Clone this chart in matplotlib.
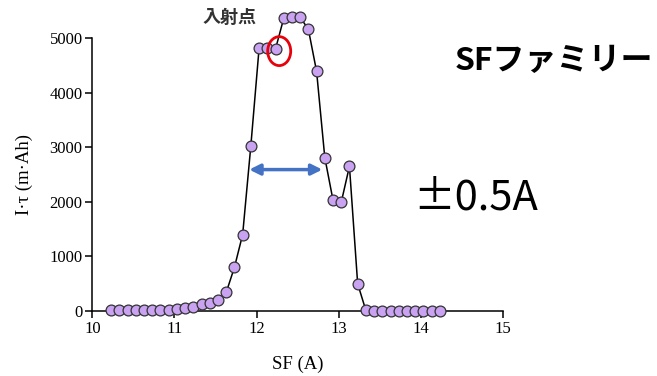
import numpy as np
import matplotlib
matplotlib.use('Agg')
import matplotlib.pyplot as plt
from matplotlib.patches import Ellipse

# SF current scan (A) vs I*tau (m*Ah)
sf_current = [10.23, 10.33, 10.43, 10.53, 10.63, 10.73, 10.83, 10.93, 11.03, 11.13,
              11.23, 11.33, 11.43, 11.53, 11.63, 11.73, 11.83, 11.93, 12.03, 12.13,
              12.23, 12.33, 12.43, 12.53, 12.63, 12.73, 12.83, 12.93, 13.03, 13.13,
              13.23, 13.33, 13.43, 13.53, 13.63, 13.73, 13.83, 13.93, 14.03, 14.13, 14.23]
i_tau = [20, 20, 20, 20, 20, 20, 20, 25, 35, 50,
         80, 130, 150, 200, 340, 800, 1400, 3030, 4810, 4810,
         4800, 5360, 5380, 5380, 5160, 4390, 2810, 2030, 1990, 2650,
         500, 10, 5, 5, 5, 5, 5, 5, 5, 5, 5]

x_ticks = [10, 11, 12, 13, 14, 15]
y_ticks = [0, 1000, 2000, 3000, 4000, 5000]

serif = ['Liberation Serif', 'DejaVu Serif']
cjk = ['Noto Sans CJK JP', 'DejaVu Sans']

fig = plt.figure(figsize=(6.57, 3.76), dpi=100)
ax = fig.add_axes([0.1405, 0.1729, 0.6252, 0.726])

ax.plot(sf_current, i_tau, color='black', lw=1.1, marker='o', markersize=7.8,
        markerfacecolor='#c9a2f2', markeredgecolor='#333333', markeredgewidth=0.9,
        clip_on=False, zorder=3)

ax.set_xlim(10, 15)
ax.set_ylim(0, 5000)
ax.set_xticks(x_ticks)
ax.set_yticks(y_ticks)
for s in ['top', 'right']:
    ax.spines[s].set_visible(False)
for s in ['left', 'bottom']:
    ax.spines[s].set_linewidth(1.1)
ax.tick_params(direction='out', length=5, width=1.1, labelsize=12, pad=2)
for lab in ax.get_xticklabels() + ax.get_yticklabels():
    lab.set_family(serif)

ax.set_xlabel('SF (A)', family=serif, fontsize=13.5, labelpad=14)
ax.set_ylabel('I·τ (m·Ah)', family=serif, fontsize=13.5, labelpad=12)

# 入射点 marker
ell = Ellipse((12.275, 4760), width=0.28, height=530, fill=False,
              edgecolor='#e8000b', lw=2, clip_on=False, zorder=4)
ax.add_patch(ell)
fig.text(230 / 657, 1 - 17 / 376, '入射点', family=cjk, fontsize=13, fontweight='bold',
         color='#333333', ha='center', va='center')

# ±0.5A range arrow
ax.annotate('', xy=(11.91, 2590), xytext=(12.80, 2590),
            arrowprops=dict(arrowstyle='<|-|>', color='#4472c4', lw=2.5,
                            mutation_scale=16, shrinkA=0, shrinkB=0))

fig.text(554 / 657, 1 - 61 / 376, 'SFファミリー', family=cjk, fontsize=23,
         fontweight='bold', color='black', ha='center', va='center')
fig.text(476 / 657, 1 - 198 / 376, '±0.5A', family=cjk, fontsize=30,
         color='black', ha='center', va='center')

fig.savefig('out.png', dpi=100)
